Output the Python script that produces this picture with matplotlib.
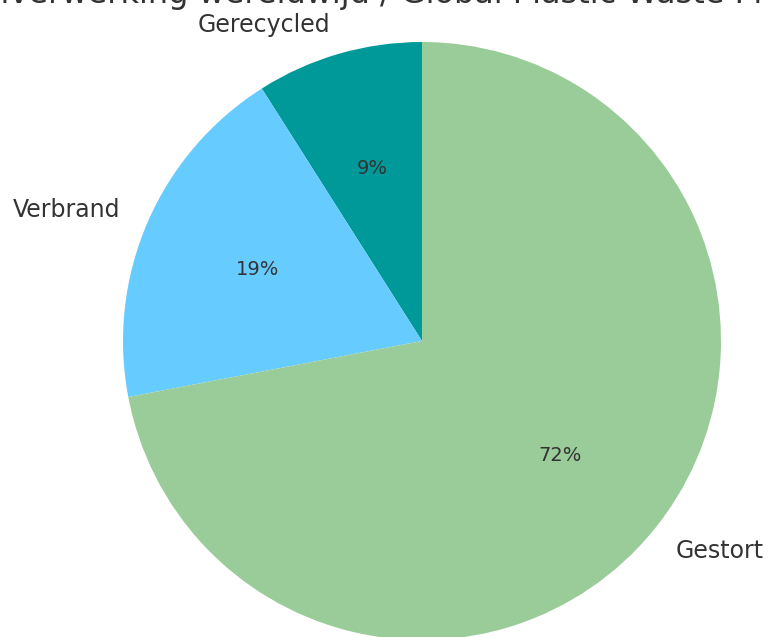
import matplotlib
matplotlib.use("Agg")
import matplotlib.pyplot as plt

# Data
labels = ["Gerecycled", "Verbrand", "Gestort"]
shares = [9, 19, 72]
colors = ["#009999", "#66ccff", "#99cc99"]
title = "Afvalverwerking wereldwijd / Global Plastic Waste Processing"

fig = plt.figure(figsize=(7.68, 6.37), dpi=100)
ax = fig.add_axes([123 / 768, -3 / 637, 598 / 768, 598 / 637])

ax.pie(shares, labels=labels, colors=colors, autopct="%1.0f%%",
       startangle=90, textprops={"color": "#333333", "fontsize": 17})
for t in ax.texts:
    if t.get_text().endswith("%"):
        t.set_fontsize(14)
ax.set_xlim(-1, 1)
ax.set_ylim(-1, 1)

fig.text(418 / 768, 1 - 3 / 637, title, ha="center", va="baseline",
         fontsize=23, color="#333333")

fig.savefig("out.png", dpi=100)
